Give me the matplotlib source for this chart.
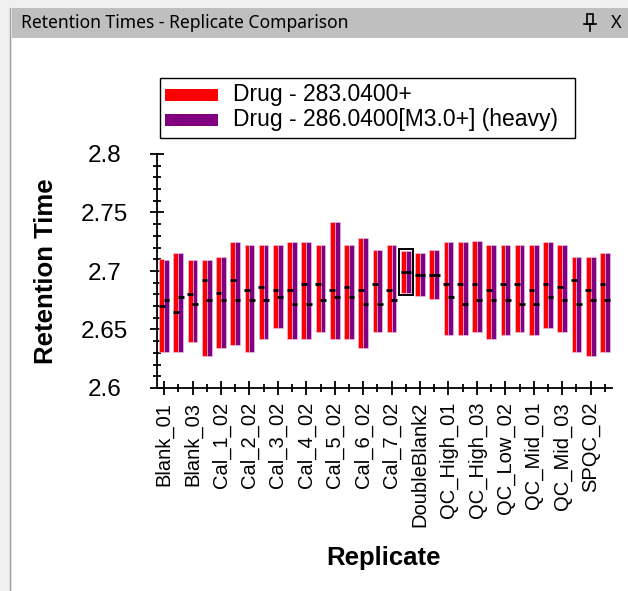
import matplotlib
matplotlib.use("Agg")
import matplotlib.pyplot as plt
import matplotlib.patches as patches
from matplotlib.lines import Line2D
from matplotlib.ticker import MultipleLocator, FuncFormatter

W, H = 628, 591

replicates = [
    "Blank_01", "Blank_02", "Blank_03",
    "Cal_1_01", "Cal_1_02", "Cal_2_01", "Cal_2_02", "Cal_3_01", "Cal_3_02",
    "Cal_4_01", "Cal_4_02", "Cal_5_01", "Cal_5_02", "Cal_6_01", "Cal_6_02",
    "Cal_7_01", "Cal_7_02",
    "DoubleBlank1", "DoubleBlank2", "DoubleBlank3",
    "QC_High_01", "QC_High_02", "QC_High_03",
    "QC_Low_01", "QC_Low_02", "QC_Low_03",
    "QC_Mid_01", "QC_Mid_02", "QC_Mid_03",
    "SPQC_01", "SPQC_02", "SPQC_03",
]

series_names = ["Drug - 283.0400+", "Drug - 286.0400[M3.0+] (heavy)"]
series_colors = ["#ff0000", "#800080"]

# peak start / end / apex retention times, light precursor
light_start = [2.631, 2.631, 2.639, 2.627, 2.634, 2.637, 2.631, 2.642, 2.651, 2.642,
               2.642, 2.648, 2.642, 2.642, 2.634, 2.648, 2.648, 2.681, 2.679, 2.676,
               2.645, 2.645, 2.648, 2.642, 2.645, 2.648, 2.645, 2.651, 2.648, 2.631,
               2.627, 2.631]
light_end = [2.710, 2.715, 2.709, 2.709, 2.712, 2.725, 2.722, 2.722, 2.722, 2.725,
             2.725, 2.722, 2.742, 2.722, 2.728, 2.718, 2.722, 2.717, 2.715, 2.718,
             2.725, 2.725, 2.726, 2.722, 2.722, 2.722, 2.722, 2.725, 2.722, 2.712,
             2.712, 2.715]
light_rt = [2.670, 2.665, 2.680, 2.692, 2.681, 2.692, 2.684, 2.686, 2.684, 2.684,
            2.689, 2.689, 2.684, 2.686, 2.684, 2.689, 2.684, 2.699, 2.697, 2.697,
            2.689, 2.689, 2.689, 2.684, 2.689, 2.689, 2.684, 2.689, 2.686, 2.692,
            2.684, 2.689]

# heavy precursor
heavy_start = [2.631, 2.631, 2.639, 2.627, 2.634, 2.637, 2.631, 2.642, 2.651, 2.642,
               2.642, 2.648, 2.642, 2.642, 2.634, 2.648, 2.648, 2.681, 2.679, 2.676,
               2.645, 2.645, 2.648, 2.642, 2.645, 2.648, 2.645, 2.651, 2.648, 2.631,
               2.627, 2.631]
heavy_end = [2.709, 2.715, 2.709, 2.709, 2.712, 2.725, 2.722, 2.722, 2.722, 2.725,
             2.725, 2.722, 2.742, 2.722, 2.728, 2.718, 2.722, 2.717, 2.715, 2.718,
             2.725, 2.725, 2.726, 2.722, 2.722, 2.722, 2.722, 2.725, 2.722, 2.712,
             2.712, 2.715]
heavy_rt = [2.675, 2.678, 2.672, 2.675, 2.675, 2.675, 2.675, 2.675, 2.678, 2.672,
            2.672, 2.675, 2.678, 2.678, 2.672, 2.672, 2.675, 2.699, 2.697, 2.697,
            2.678, 2.672, 2.675, 2.675, 2.675, 2.672, 2.672, 2.678, 2.675, 2.672,
            2.675, 2.675]

selected = "DoubleBlank1"


def fx(px):
    return px / W


def fy(py):
    return 1 - py / H


fig = plt.figure(figsize=(W / 100, H / 100), dpi=100)
fig.patch.set_facecolor("#f0f0f0")

# window frame: white pane, grey title bar, left border (kept behind the axes)
fig.add_artist(patches.Rectangle((fx(12), 0), 1 - fx(12), fy(38), transform=fig.transFigure,
                                 facecolor="white", edgecolor="none", zorder=-2))
fig.add_artist(patches.Rectangle((fx(12), fy(38)), 1 - fx(12), fy(8) - fy(38),
                                 transform=fig.transFigure, facecolor="#bfbfbf",
                                 edgecolor="none", zorder=-2))
fig.add_artist(Line2D([fx(10), fx(10)], [0, fy(8)], transform=fig.transFigure,
                      color="#a0a0a0", lw=1, zorder=-1))
fig.text(fx(21), fy(23), "Retention Times - Replicate Comparison", fontsize=12.6,
         family="Noto Sans", va="center", ha="left", color="black")

# pin + close glyphs
fig.add_artist(patches.Rectangle((fx(587), fy(24)), fx(6), fy(14) - fy(24), transform=fig.transFigure,
                                 facecolor="none", edgecolor="black", lw=1.2))
fig.add_artist(Line2D([fx(584), fx(596)], [fy(24), fy(24)], transform=fig.transFigure,
                      color="black", lw=1.2))
fig.add_artist(Line2D([fx(590), fx(590)], [fy(24), fy(31)], transform=fig.transFigure,
                      color="black", lw=1.2))
fig.text(fx(611), fy(23), "X", fontsize=13, family="Noto Sans", va="center", ha="left")

ax = fig.add_axes([fx(157), fy(388), fx(612) - fx(157), fy(154) - fy(388)])
ax.patch.set_alpha(0)

x = list(range(len(replicates)))
bw = 0.34
off = 0.17
edge = "#f4c8f4"

ax.bar([i - off for i in x], [e - s for s, e in zip(light_start, light_end)], bottom=light_start,
       width=bw, color=series_colors[0], edgecolor=edge, linewidth=0.4, zorder=2)
ax.bar([i + off for i in x], [e - s for s, e in zip(heavy_start, heavy_end)], bottom=heavy_start,
       width=bw, color=series_colors[1], edgecolor=edge, linewidth=0.4, zorder=2)

ax.hlines(light_rt, [i - off - 0.2 for i in x], [i - off + 0.2 for i in x],
          color="black", lw=2, zorder=3)
ax.hlines(heavy_rt, [i + off - 0.2 for i in x], [i + off + 0.2 for i in x],
          color="black", lw=2, zorder=3)

# selected replicate outline
si = replicates.index(selected)
lo = min(light_start[si], heavy_start[si]) - 0.0015
hi = max(light_end[si], heavy_end[si]) + 0.0015
ax.add_patch(patches.Rectangle((si - 0.48, lo), 0.96, hi - lo, facecolor="none",
                               edgecolor="black", lw=1.4, zorder=4))

ax.set_xlim(-0.5, len(replicates) - 0.5)
ax.set_ylim(2.6, 2.8)

for side in ("top", "right"):
    ax.spines[side].set_visible(False)
for side in ("left", "bottom"):
    ax.spines[side].set_linewidth(1.3)

ax.yaxis.set_major_locator(MultipleLocator(0.05))
ax.yaxis.set_minor_locator(MultipleLocator(0.01))
ax.yaxis.set_major_formatter(FuncFormatter(lambda v, p: "%g" % round(v, 3)))

ax.set_xticks(x[0::2])
ax.set_xticklabels(replicates[0::2], rotation=90, fontsize=14.5, family="Liberation Sans")
ax.set_xticks(x[1::2], minor=True)

ax.tick_params(axis="both", which="major", direction="inout", length=10, width=1.3, color="black")
ax.tick_params(axis="both", which="minor", direction="inout", length=6, width=1.3, color="black")
ax.tick_params(axis="y", which="major", labelsize=17.5, pad=33)
ax.tick_params(axis="x", which="major", pad=5)
for lbl in ax.get_yticklabels():
    lbl.set_family("Liberation Sans")
    lbl.set_horizontalalignment("center")

ax.set_ylabel("Retention Time", fontsize=18.5, fontweight="bold", family="Liberation Sans",
              va="center")
ax.yaxis.set_label_coords((46 - 157) / 455, 0.5)
ax.set_xlabel("Replicate", fontsize=18.5, fontweight="bold", family="Liberation Sans",
              va="center")
ax.xaxis.set_label_coords((384 - 157) / 455, (388 - 558) / 234)

# legend box
fig.add_artist(patches.Rectangle((fx(160), fy(138)), fx(575) - fx(160), fy(78) - fy(138),
                                 transform=fig.transFigure, facecolor="white",
                                 edgecolor="black", lw=1))
for k, (name, col) in enumerate(zip(series_names, series_colors)):
    yc = 95 + 25 * k
    fig.add_artist(patches.Rectangle((fx(165), fy(yc + 6)), fx(53), fy(yc - 6) - fy(yc + 6),
                                     transform=fig.transFigure, facecolor=col, edgecolor="none"))
    fig.text(fx(233), fy(yc), name, fontsize=16.5, family="Liberation Sans",
             va="center", ha="left")

fig.savefig("out.png", dpi=100, facecolor=fig.get_facecolor())
